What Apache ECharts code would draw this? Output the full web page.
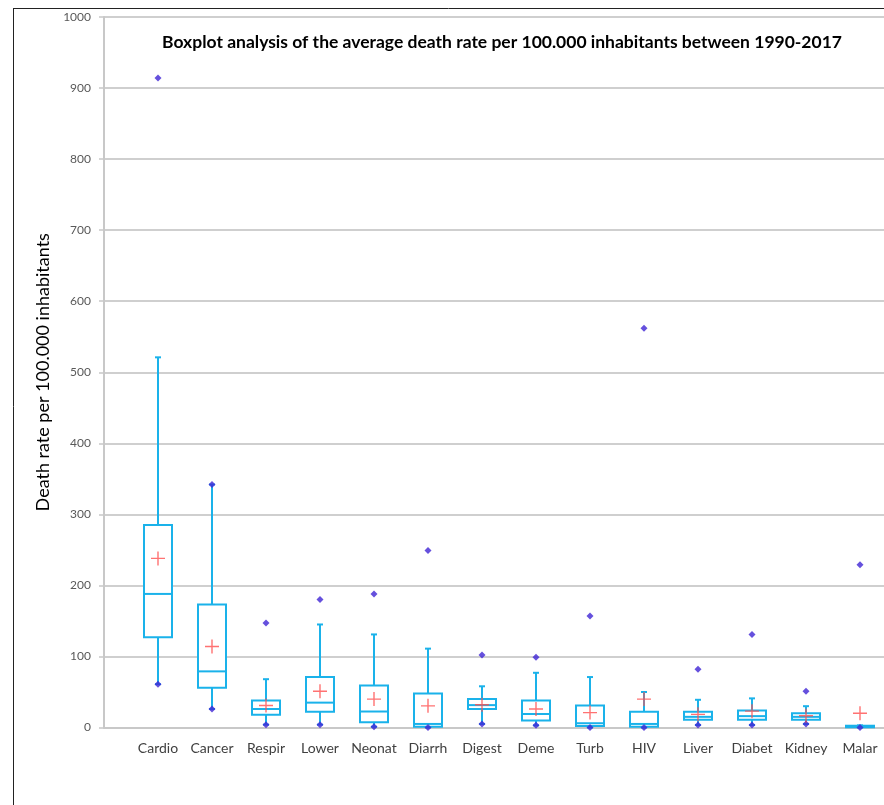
<!DOCTYPE html>
<html>
<head>
<meta charset="utf-8">
<script src="https://cdn.jsdelivr.net/npm/echarts@6/dist/echarts.min.js"></script>
<style>html,body{margin:0;padding:0;background:#fff}#c{width:884px;height:805px}</style>
</head>
<body>
<div id="c"></div>
<script>
const categories = ['Cardio','Cancer','Respir','Lower','Neonat','Diarrh','Digest','Deme','Turb','HIV','Liver','Diabet','Kidney','Malar'];
const minVals      = [61, 26, 4, 4, 1, 0, 5, 3, 0, 0, 3.5, 3.5, 5, 0];
const q1Vals       = [127, 56, 18, 22, 7.5, 1, 26, 10, 2, 1, 11, 11, 11, 0.3];
const medianVals   = [188, 79, 26, 35, 22.5, 5, 31.5, 19, 6, 5, 15, 16, 15, 1];
const q3Vals       = [285, 173, 38, 71, 59, 48, 40, 38, 31, 22, 22, 24, 20, 2.5];
const upperWhisker = [521, 342, 68, 145, 131, 111, 58, 77, 71, 50, 39, 41, 30, 3];
const maxVals      = [914, 342, 147, 180, 188, 249, 102, 99, 157, 562, 82, 131, 51, 229];
const meanVals     = [238, 114, 31, 51, 40, 30.5, 32, 26, 21, 40, 18.5, 23, 16.5, 20];
const yTicks = {min: 0, max: 1000, interval: 100};

const boxData = categories.map((c, i) => [i + 1, minVals[i], q1Vals[i], medianVals[i], q3Vals[i], upperWhisker[i]]);
const dotData = [];
categories.forEach((c, i) => { dotData.push([i + 1, minVals[i]]); dotData.push([i + 1, maxVals[i]]); });
const meanData = categories.map((c, i) => [i + 1, meanVals[i]]);

const BOX = '#1ab2ea';
const chart = echarts.init(document.getElementById('c'), null, {renderer: 'canvas'});
chart.setOption({
  backgroundColor: '#fff',
  animation: false,
  textStyle: {fontFamily: 'Lato'},
  grid: {left: 104, top: 17, bottom: 77.5, right: 0, containLabel: false},
  xAxis: {
    type: 'value', min: 0, max: (884 - 104) / 54, interval: 1,
    axisLine: {show: true, onZero: false, lineStyle: {color: '#c8c8c8', width: 2}},
    axisTick: {show: false},
    axisLabel: {color: '#404040', fontSize: 14, margin: 14, fontFamily: 'Lato',
      showMaxLabel: false, showMinLabel: false,
      formatter: function (v) { return Number.isInteger(v) && v >= 1 && v <= categories.length ? categories[v - 1] : ''; }},
    splitLine: {show: false}
  },
  yAxis: {
    type: 'value', min: yTicks.min, max: yTicks.max, interval: yTicks.interval,
    name: 'Death rate per 100.000 inhabitants', nameLocation: 'middle', nameRotate: 90, nameGap: 34,
    nameTextStyle: {color: '#000', fontSize: 18, fontFamily: 'Lato'},
    axisLine: {show: true, lineStyle: {color: '#c8c8c8', width: 2}},
    axisTick: {show: true, length: 5, lineStyle: {color: '#c8c8c8', width: 1.5}},
    axisLabel: {color: '#595959', fontSize: 12, margin: 13, fontFamily: 'Lato', formatter: function (v) { return String(v); }},
    splitLine: {show: true, lineStyle: {color: '#cfcfcf', width: 2}}
  },
  graphic: [
    {type: 'line', shape: {x1: 13.5, y1: 8, x2: 13.5, y2: 805}, style: {stroke: '#222', lineWidth: 1}, z: 100},
    {type: 'line', shape: {x1: 13, y1: 8.5, x2: 884, y2: 8.5}, style: {stroke: '#222', lineWidth: 1}, z: 100},
    {type: 'text', x: 502, y: 42, style: {text: 'Boxplot analysis of the average death rate per 100.000 inhabitants between 1990-2017', fill: '#000', font: 'bold 17.5px Lato', textAlign: 'center', textVerticalAlign: 'middle'}, z: 100}
  ],
  series: [
    {
      type: 'custom', data: boxData, encode: {x: 0, y: [1, 2, 3, 4, 5]}, z: 3,
      renderItem: function (params, api) {
        const x = api.value(0);
        const pMin = api.coord([x, api.value(1)]);
        const pQ1 = api.coord([x, api.value(2)]);
        const pMed = api.coord([x, api.value(3)]);
        const pQ3 = api.coord([x, api.value(4)]);
        const pUp = api.coord([x, api.value(5)]);
        const cx = Math.round(pMin[0]);
        const hw = 14, cw = 3;
        const st = {stroke: BOX, lineWidth: 2, fill: null};
        return {type: 'group', children: [
          {type: 'line', shape: {x1: cx, y1: pQ3[1], x2: cx, y2: pUp[1]}, style: st},
          {type: 'line', shape: {x1: cx, y1: pQ1[1], x2: cx, y2: pMin[1]}, style: st},
          {type: 'line', shape: {x1: cx - cw, y1: pUp[1], x2: cx + cw, y2: pUp[1]}, style: st},
          {type: 'line', shape: {x1: cx - cw, y1: pMin[1], x2: cx + cw, y2: pMin[1]}, style: st},
          {type: 'rect', shape: {x: cx - hw, y: pQ3[1], width: 2 * hw, height: Math.max(pQ1[1] - pQ3[1], 0.5)}, style: {stroke: BOX, lineWidth: 2, fill: '#fff'}},
          {type: 'line', shape: {x1: cx - hw, y1: pMed[1], x2: cx + hw, y2: pMed[1]}, style: st}
        ]};
      }
    },
    {
      type: 'scatter', data: dotData, symbol: 'diamond', symbolSize: 7, z: 5,
      itemStyle: {color: '#3f24d4'}
    },
    {
      type: 'scatter', data: meanData, z: 6,
      symbol: 'path://M4.5,0h1v4.5h4.5v1h-4.5v4.5h-1v-4.5h-4.5v-1h4.5z', symbolSize: 14,
      itemStyle: {color: '#ff4f4f'}
    }
  ]
});
</script>
</body>
</html>
